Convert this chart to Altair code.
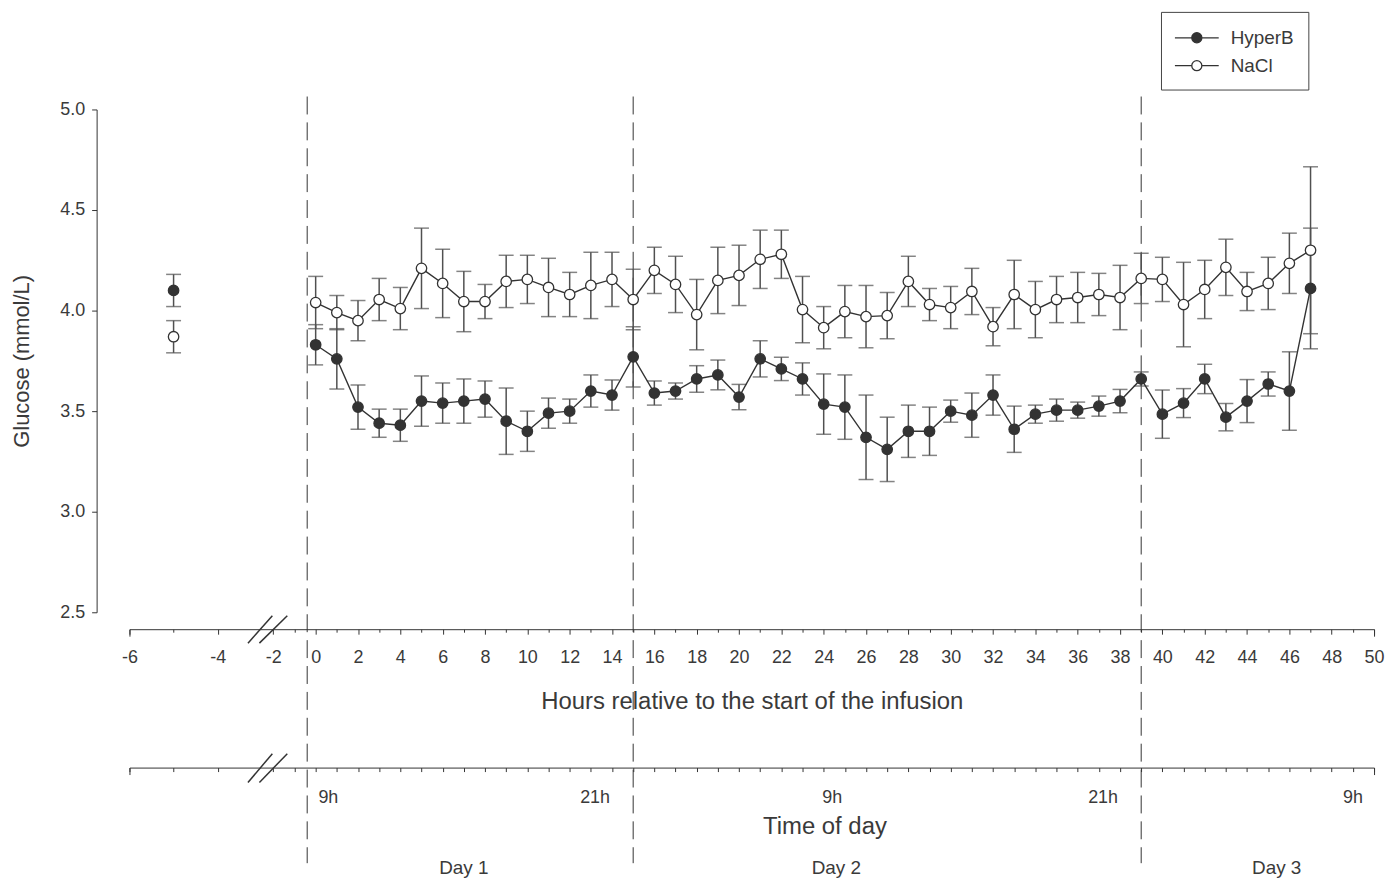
import altair as alt
import pandas as pd

# ---------------- data ----------------
hours = list(range(48))
hyperb_mean = [3.83, 3.76, 3.52, 3.44, 3.43, 3.55, 3.54, 3.55, 3.56, 3.45,
               3.40, 3.49, 3.50, 3.60, 3.58, 3.77, 3.59, 3.60, 3.66, 3.68,
               3.57, 3.76, 3.71, 3.66, 3.535, 3.52, 3.37, 3.31, 3.40, 3.40,
               3.50, 3.48, 3.58, 3.41, 3.485, 3.505, 3.505, 3.525, 3.55, 3.66,
               3.485, 3.54, 3.66, 3.47, 3.55, 3.635, 3.60, 4.11]
hyperb_sem = [0.10, 0.15, 0.11, 0.07, 0.08, 0.125, 0.10, 0.11, 0.09, 0.165,
              0.10, 0.075, 0.06, 0.08, 0.075, 0.15, 0.06, 0.04, 0.066, 0.074,
              0.063, 0.09, 0.058, 0.08, 0.15, 0.16, 0.21, 0.16, 0.13, 0.12,
              0.055, 0.11, 0.10, 0.115, 0.045, 0.055, 0.04, 0.05, 0.058, 0.035,
              0.12, 0.072, 0.073, 0.068, 0.107, 0.06, 0.195, 0.30]
nacl_mean = [4.04, 3.99, 3.95, 4.055, 4.01, 4.21, 4.135, 4.045, 4.045, 4.145,
             4.155, 4.115, 4.08, 4.125, 4.155, 4.055, 4.20, 4.13, 3.98, 4.15,
             4.175, 4.255, 4.28, 4.005, 3.915, 3.995, 3.97, 3.975, 4.145, 4.03,
             4.015, 4.095, 3.92, 4.08, 4.005, 4.055, 4.065, 4.08, 4.065, 4.16,
             4.155, 4.03, 4.105, 4.215, 4.095, 4.135, 4.235, 4.30]
nacl_sem = [0.13, 0.085, 0.10, 0.105, 0.105, 0.20, 0.17, 0.15, 0.085, 0.13,
            0.12, 0.145, 0.11, 0.165, 0.135, 0.15, 0.115, 0.14, 0.175, 0.165,
            0.15, 0.145, 0.12, 0.165, 0.105, 0.13, 0.155, 0.115, 0.125, 0.08,
            0.105, 0.115, 0.095, 0.17, 0.14, 0.115, 0.125, 0.105, 0.16, 0.125,
            0.11, 0.21, 0.145, 0.14, 0.095, 0.13, 0.15, 0.415]

baseline_hour = -5
baseline_hyperb_mean, baseline_hyperb_sem = 4.10, 0.08
baseline_nacl_mean, baseline_nacl_sem = 3.87, 0.08

series_names = ["HyperB", "NaCl"]

hour_ticks_major = [-6, -4, -2] + list(range(0, 51, 2))
hour_ticks_minor = [-5, -1] + list(range(1, 50, 2))
axis_end_ticks = [-6, 50]
time_ticks = [-6, -5, -4, -2, -1] + list(range(0, 51))
y_ticks = [2.5, 3.0, 3.5, 4.0, 4.5, 5.0]

day_boundaries = [-0.4, 15, 39]
time_labels = ["9h", "21h", "9h", "21h", "9h"]
time_label_hours = [0.6, 13.2, 24.4, 37.2, 49.0]
day_labels = ["Day 1", "Day 2", "Day 3"]
day_label_hours = [7.0, 24.6, 45.4]

# ---------------- tables ----------------
rows = []
for name, bm, bs, means, sems in [
    ("HyperB", baseline_hyperb_mean, baseline_hyperb_sem, hyperb_mean, hyperb_sem),
    ("NaCl", baseline_nacl_mean, baseline_nacl_sem, nacl_mean, nacl_sem),
]:
    rows.append({"hour": baseline_hour, "series": name, "mean": bm, "lo": bm - bs, "hi": bm + bs})
    for h, m, s in zip(hours, means, sems):
        rows.append({"hour": h, "series": name, "mean": m, "lo": m - s, "hi": m + s})
df = pd.DataFrame(rows)

df_bounds = pd.DataFrame({"h": day_boundaries})
df_time = pd.DataFrame({"h": time_label_hours, "label": time_labels})
df_days = pd.DataFrame({"h": day_label_hours, "label": day_labels})
df_one = pd.DataFrame({"k": [0]})

# ---------------- styling ----------------
FONT = "Liberation Sans"
INK = "#333333"
TXT = "#3a3a3a"
EB = "#505050"
HYPHEN_LABEL = "datum.value < 0 ? '-' + abs(datum.value) : '' + datum.value"

# broken (piecewise) hour scale: -6..-3 wide segment, then -2.5..50
X_DOMAIN = [-6, -3, -2.5, 50]
X_RANGE = [0, 132.9, 133.85, 1250]


def xscale():
    return alt.Scale(domain=X_DOMAIN, range=X_RANGE, nice=False, zero=False)


yscale = alt.Scale(domain=[2.5, 5.0], nice=False, zero=False)

y_axis = alt.Axis(values=y_ticks, format=".1f", offset=33, tickSize=5,
                  labelPadding=7, grid=False, title="Glucose (mmol/L)",
                  titlePadding=26, titleFontSize=22, titleFontWeight="normal",
                  titleColor=TXT, labelColor=TXT, labelFontSize=18,
                  domainColor=INK, tickColor=INK, labelFont=FONT, titleFont=FONT)

hours_axis = alt.Axis(orient="bottom", values=hour_ticks_major, offset=17, tickSize=5,
                      labelPadding=14, grid=False, labelExpr=HYPHEN_LABEL,
                      title="Hours relative to the start of the infusion",
                      titlePadding=24, titleFontSize=24, titleFontWeight="normal",
                      titleColor=TXT, labelColor=TXT, labelFontSize=18,
                      domainColor=INK, tickColor=INK, labelFont=FONT, titleFont=FONT,
                      labelFlush=False, labelOverlap=False)

hours_minor_axis = alt.Axis(orient="bottom", values=hour_ticks_minor, offset=17, tickSize=3,
                            labels=False, domain=False, grid=False, title=None, tickColor=INK)

hours_end_axis = alt.Axis(orient="bottom", values=axis_end_ticks, offset=17, tickSize=7,
                          labels=False, domain=False, grid=False, title=None, tickColor=INK)

time_axis = alt.Axis(orient="bottom", values=time_ticks, offset=156, tickSize=4,
                     labels=False, grid=False, title="Time of day",
                     titleX=698, titleY=47, titleFontSize=24, titleFontWeight="normal",
                     titleColor=TXT, domainColor=INK, tickColor=INK, titleFont=FONT)

time_end_axis = alt.Axis(orient="bottom", values=axis_end_ticks, offset=156, tickSize=7,
                         labels=False, domain=False, grid=False, title=None, tickColor=INK)

# line + circle legend glyph (unit square is 22 px, line spans 44 px)
LEGEND_SYMBOL = ("M-2,0L-0.46,0M0.46,0L2,0"
                 "M0.46,0A0.46,0.46,0,1,1,-0.46,0A0.46,0.46,0,1,1,0.46,0Z")

legend = alt.Legend(title=None, orient="none", legendX=1036, legendY=-98,
                    direction="vertical", symbolType=LEGEND_SYMBOL, symbolSize=484,
                    symbolStrokeColor=INK, symbolStrokeWidth=1.3, symbolOpacity=1,
                    symbolOffset=10,
                    labelFontSize=19, labelFont=FONT, labelColor=TXT, labelOffset=22,
                    padding=14, strokeColor="#444444", rowPadding=6,
                    labelExpr="datum.label + '\u00a0\u00a0\u00a0\u00a0'")

base = alt.Chart(df)

errbars = base.mark_errorbar(
    ticks={"size": 15, "thickness": 1.5, "color": EB},
    rule={"strokeWidth": 1.5, "color": EB},
).encode(
    x=alt.X("hour:Q", scale=xscale(), axis=hours_axis),
    y=alt.Y("lo:Q", scale=yscale, axis=y_axis),
    y2="hi:Q",
)

lines = base.mark_line(color=INK, strokeWidth=1.4).encode(
    x=alt.X("hour:Q", scale=xscale(), axis=hours_minor_axis),
    y=alt.Y("mean:Q", scale=yscale, axis=y_axis),
    detail="series:N",
).transform_filter("datum.hour >= 0")

points = base.mark_point(shape="circle", filled=True, size=110, stroke=INK,
                         strokeWidth=1.3, opacity=1, fillOpacity=1).encode(
    x=alt.X("hour:Q", scale=xscale(), axis=hours_end_axis),
    y=alt.Y("mean:Q", scale=yscale, axis=y_axis),
    fill=alt.Fill("series:N", scale=alt.Scale(domain=series_names, range=[INK, "#ffffff"]),
                  legend=legend),
)

bounds = alt.Chart(df_bounds).mark_rule(color=INK, strokeWidth=1, strokeDash=[18, 8]).encode(
    x=alt.X("h:Q", scale=xscale(), axis=None),
    y=alt.value(-13),
    y2=alt.value(757),
)

time_text = alt.Chart(df_time).mark_text(font=FONT, fontSize=18, color=TXT,
                                         baseline="middle", align="center").encode(
    x=alt.X("h:Q", scale=xscale(), axis=time_axis),
    y=alt.value(692),
    text="label:N",
)

day_text = alt.Chart(df_days).mark_text(font=FONT, fontSize=19, color=TXT,
                                        baseline="alphabetic", align="center").encode(
    x=alt.X("h:Q", scale=xscale(), axis=time_end_axis),
    y=alt.value(768),
    text="label:N",
)


def slash(x0, x1, y0, y1):
    return alt.Chart(df_one).mark_rule(color=INK, strokeWidth=1.5).encode(
        x=alt.value(x0), x2=alt.value(x1), y=alt.value(y0), y2=alt.value(y1))


slashes = [
    slash(119, 143.5, 536, 508.5),
    slash(130.5, 158.5, 536, 508.5),
    slash(119, 143.5, 676, 647),
    slash(130.5, 158.5, 676, 647),
]

chart = alt.layer(
    bounds, errbars, lines, points, time_text, day_text, *slashes
).resolve_scale(x="independent").properties(
    width=1250, height=505,
    autosize=alt.AutoSizeParams(type="none"),
    padding={"left": 122, "top": 100, "right": 11, "bottom": 268},
    background="white",
).configure(font=FONT).configure_view(stroke="transparent")

chart.save("out.html", embed_options={"renderer": "svg", "actions": False})
